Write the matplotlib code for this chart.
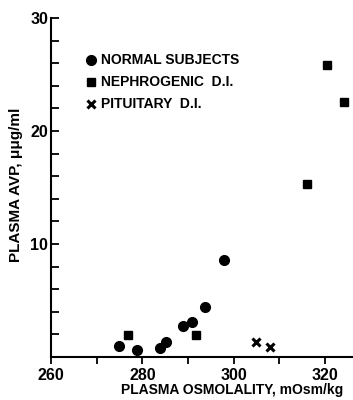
import matplotlib
matplotlib.use("Agg")
import matplotlib.pyplot as plt
from matplotlib.ticker import MultipleLocator

plt.rcParams['font.family'] = ['Liberation Sans', 'DejaVu Sans']
plt.rcParams['font.weight'] = 'bold'

normal_x = [274.8, 278.9, 283.8, 285.1, 288.8, 290.8, 293.8, 297.9]
normal_y = [1.0, 0.6, 0.8, 1.35, 2.7, 3.1, 4.4, 8.6]
nephro_x = [276.8, 291.8, 316.1, 320.4, 324.2]
nephro_y = [1.95, 1.95, 15.3, 25.8, 22.6]
pit_x = [304.9, 308.0]
pit_y = [1.3, 0.9]

fig = plt.figure(figsize=(3.53, 4.0), dpi=100)
ax = fig.add_axes([0.1445, 0.1075, 0.8555, 0.8475])

ax.plot(normal_x, normal_y, 'o', color='black', ms=7, label='NORMAL SUBJECTS', clip_on=False)
ax.plot(nephro_x, nephro_y, 's', color='black', ms=6, label='NEPHROGENIC  D.I.', clip_on=False)
ax.plot(pit_x, pit_y, 'x', color='black', ms=6, mew=2.2, label='PITUITARY  D.I.', clip_on=False)

ax.set_xlim(260, 326.1)
ax.set_ylim(0, 30)
ax.spines['top'].set_visible(False)
ax.spines['right'].set_visible(False)
for s in ('left', 'bottom'):
    ax.spines[s].set_linewidth(1.5)

ax.set_xticks([260, 280, 300, 320])
ax.xaxis.set_minor_locator(MultipleLocator(10))
ax.set_yticks([10, 20, 30])
ax.yaxis.set_minor_locator(MultipleLocator(2))
ax.tick_params(axis='x', which='both', direction='out', length=5, width=1.3, labelsize=11.5, pad=3)
ax.tick_params(axis='y', which='both', direction='in', length=6, width=1.3, labelsize=11.5, pad=2)

ax.set_xlabel('PLASMA OSMOLALITY, mOsm/kg', fontsize=10, fontweight='bold')
ax.xaxis.set_label_coords(0.6, -0.078)
ax.set_ylabel('PLASMA AVP, μμg/ml', fontsize=11, fontweight='bold')
ax.yaxis.set_label_coords(-0.093, 0.507)

leg = ax.legend(loc='upper left', bbox_to_anchor=(0.095, 0.912), frameon=False,
                fontsize=10, handletextpad=0.35, labelspacing=0.58, handlelength=0.8,
                borderaxespad=0)

fig.savefig('out.png', dpi=100)
